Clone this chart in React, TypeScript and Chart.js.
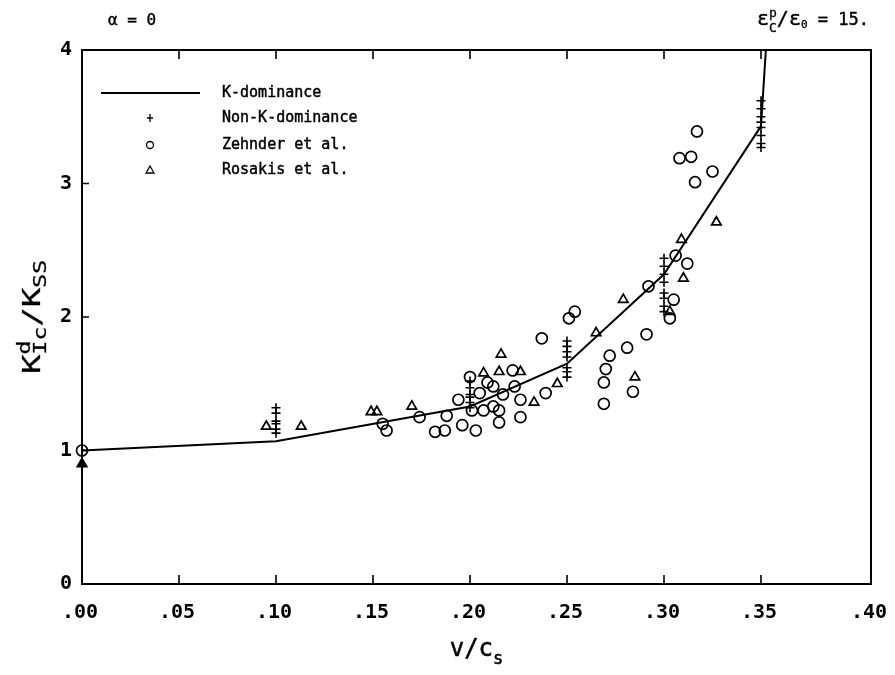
import React, { useEffect, useRef } from 'react';
import { Chart, registerables } from 'chart.js';

Chart.register(...registerables);

// ---------- data ----------
const xMin = 0;
const xMax = 0.4067;
const yMin = 0;
const yMax = 4;
const xTickValues = [0, 0.05, 0.1, 0.15, 0.2, 0.25, 0.3, 0.35, 0.4];
const xTickLabels = ['.00', '.05', '.10', '.15', '.20', '.25', '.30', '.35', '.40'];
const yTickValues = [0, 1, 2, 3, 4];
const yTickLabels = ['0', '1', '2', '3', '4'];

// K-dominance curve
const kDomV = [0, 0.1, 0.2, 0.25, 0.3, 0.35, 0.3525];
const kDomK = [1.0, 1.07, 1.33, 1.65, 2.32, 3.43, 4.0];

// Non-K-dominance (crosses)
const nonKV = [
  0.1, 0.1, 0.1, 0.1, 0.1, 0.1,
  0.2, 0.2, 0.2, 0.2, 0.2, 0.2,
  0.25, 0.25, 0.25, 0.25, 0.25, 0.25, 0.25,
  0.3, 0.3, 0.3, 0.3, 0.3, 0.3, 0.3, 0.3,
  0.35, 0.35, 0.35, 0.35, 0.35, 0.35, 0.35, 0.35,
];
const nonKK = [
  1.32, 1.28, 1.22, 1.2, 1.16, 1.13,
  1.52, 1.47, 1.42, 1.4, 1.36, 1.32,
  1.82, 1.78, 1.74, 1.7, 1.62, 1.59, 1.55,
  2.44, 2.38, 2.32, 2.26, 2.18, 2.14, 2.08, 2.04,
  3.62, 3.56, 3.5, 3.46, 3.42, 3.36, 3.3, 3.27,
];

// Zehnder et al. (circles)
const zehnderV = [
  0, 0.155, 0.157, 0.174, 0.182, 0.187, 0.188, 0.194, 0.196, 0.2,
  0.201, 0.203, 0.205, 0.207, 0.209, 0.212, 0.212, 0.215, 0.215, 0.217,
  0.222, 0.223, 0.226, 0.226, 0.237, 0.239, 0.251, 0.254, 0.269, 0.269,
  0.27, 0.272, 0.281, 0.284, 0.291, 0.292, 0.303, 0.305, 0.306, 0.312,
  0.316, 0.308, 0.314, 0.317, 0.325,
];
const zehnderK = [
  1.0, 1.2, 1.15, 1.25, 1.14, 1.15, 1.26, 1.38, 1.19, 1.55,
  1.3, 1.15, 1.43, 1.3, 1.51, 1.48, 1.33, 1.3, 1.21, 1.42,
  1.6, 1.48, 1.38, 1.25, 1.84, 1.43, 1.99, 2.04, 1.51, 1.35,
  1.61, 1.71, 1.77, 1.44, 1.87, 2.23, 1.99, 2.13, 2.46, 2.4,
  3.01, 3.19, 3.2, 3.39, 3.09,
];

// Rosakis et al. (triangles)
const rosakisV = [
  0, 0.095, 0.113, 0.149, 0.152, 0.17, 0.207, 0.215, 0.216, 0.226,
  0.233, 0.245, 0.265, 0.279, 0.285, 0.303, 0.31, 0.309, 0.327,
];
const rosakisK = [
  0.9, 1.18, 1.18, 1.29, 1.29, 1.33, 1.58, 1.59, 1.72, 1.59,
  1.36, 1.5, 1.88, 2.13, 1.55, 2.04, 2.29, 2.58, 2.71,
];

const legendLabels = ['K-dominance', 'Non-K-dominance', 'Zehnder et al.', 'Rosakis et al.'];

const MONO = '"DejaVu Sans Mono", monospace';

function pts(xs: number[], ys: number[]) {
  return xs.map((x, i) => ({ x, y: ys[i] }));
}

function heavyText(ctx: CanvasRenderingContext2D, t: string, x: number, y: number, w = 0.5) {
  ctx.fillText(t, x, y);
  if (w > 0) {
    ctx.lineWidth = w;
    ctx.strokeText(t, x, y);
  }
}

const framePlugin = {
  id: 'framePlugin',
  afterDraw(chart: any) {
    const ctx = chart.ctx as CanvasRenderingContext2D;
    const xs = chart.scales.x;
    const ys = chart.scales.y;
    const a = chart.chartArea;
    ctx.save();
    ctx.strokeStyle = '#000';
    ctx.fillStyle = '#000';
    ctx.lineWidth = 2;
    ctx.strokeRect(a.left, a.top, a.right - a.left, a.bottom - a.top);

    const lastIdx = xTickValues.length - 1;
    const xPix = (i: number) => (i === lastIdx ? a.right : xs.getPixelForValue(xTickValues[i]));

    // ticks
    ctx.lineWidth = 1.6;
    ctx.beginPath();
    xTickValues.forEach((_, i) => {
      const px = xPix(i);
      if (px <= a.left + 1 || px >= a.right - 1) return;
      ctx.moveTo(px, a.bottom);
      ctx.lineTo(px, a.bottom - 9);
      ctx.moveTo(px, a.top);
      ctx.lineTo(px, a.top + 9);
    });
    yTickValues.forEach((v) => {
      const py = ys.getPixelForValue(v);
      if (py <= a.top + 1 || py >= a.bottom - 1) return;
      ctx.moveTo(a.left, py);
      ctx.lineTo(a.left + 7, py);
    });
    ctx.stroke();

    // tick labels
    ctx.font = `bold 20px ${MONO}`;
    ctx.textAlign = 'center';
    ctx.textBaseline = 'middle';
    xTickValues.forEach((_, i) => {
      ctx.fillText(xTickLabels[i], xPix(i) - 2, a.bottom + 29);
    });
    ctx.textAlign = 'right';
    yTickValues.forEach((v, i) => {
      const py = ys.getPixelForValue(v);
      ctx.fillText(yTickLabels[i], a.left - 10, py);
    });

    // x title: v/c_s
    ctx.textAlign = 'left';
    ctx.textBaseline = 'alphabetic';
    const xc = (a.left + a.right) / 2;
    ctx.font = `24px ${MONO}`;
    const w1 = ctx.measureText('v/c').width;
    ctx.font = `17px ${MONO}`;
    const w2 = ctx.measureText('s').width;
    const sx = xc - (w1 + w2) / 2;
    ctx.font = `24px ${MONO}`;
    heavyText(ctx, 'v/c', sx, 656);
    ctx.font = `17px ${MONO}`;
    heavyText(ctx, 's', sx + w1, 664);

    // y title: K^d_Ic / K_SS (rotated)
    ctx.save();
    ctx.translate(40, 317);
    ctx.rotate(-Math.PI / 2);
    const big = `24px ${MONO}`;
    const small = `17px ${MONO}`;
    ctx.font = big;
    const wK = ctx.measureText('K').width;
    const wSl = ctx.measureText('/K').width;
    ctx.font = small;
    const wd = ctx.measureText('d').width;
    const wIc = ctx.measureText('Ic').width;
    const wSS = ctx.measureText('SS').width;
    const total = wK + Math.max(wd, wIc) + wSl + wSS;
    const target = 114;
    ctx.scale(target / total, 1);
    let x0 = -total / 2;
    ctx.font = big;
    heavyText(ctx, 'K', x0, 0, 0.3);
    x0 += wK;
    ctx.font = small;
    heavyText(ctx, 'd', x0, -10, 0.3);
    heavyText(ctx, 'Ic', x0, 6, 0.3);
    x0 += Math.max(wd, wIc);
    ctx.font = big;
    heavyText(ctx, '/K', x0, 0, 0.3);
    x0 += wSl;
    ctx.font = small;
    heavyText(ctx, 'SS', x0, 6, 0.3);
    ctx.restore();

    // top-left annotation
    ctx.font = `16px ${MONO}`;
    heavyText(ctx, '\u03b1 = 0', 108, 25, 0.4);

    // top-right annotation: eps_C^p / eps_0 = 15.
    let tx = 757;
    ctx.font = `20px ${MONO}`;
    heavyText(ctx, '\u03b5', tx, 25, 0.4);
    tx += ctx.measureText('\u03b5').width;
    ctx.font = `13px ${MONO}`;
    heavyText(ctx, 'p', tx, 17, 0.3);
    heavyText(ctx, 'C', tx, 32, 0.3);
    tx += ctx.measureText('C').width;
    ctx.font = `20px ${MONO}`;
    heavyText(ctx, '/\u03b5', tx, 25, 0.4);
    tx += ctx.measureText('/\u03b5').width;
    ctx.font = `11px ${MONO}`;
    heavyText(ctx, '0', tx, 28, 0.3);
    tx += ctx.measureText('0').width;
    ctx.font = `17px ${MONO}`;
    heavyText(ctx, ' = 15.', tx, 25, 0.4);

    // legend
    const rows = [93, 118, 145, 170];
    const mx = 150;
    ctx.lineWidth = 1.8;
    ctx.beginPath();
    ctx.moveTo(101, rows[0]);
    ctx.lineTo(200, rows[0]);
    ctx.stroke();
    ctx.lineWidth = 1.3;
    ctx.beginPath();
    ctx.moveTo(mx - 3, rows[1]);
    ctx.lineTo(mx + 3, rows[1]);
    ctx.moveTo(mx, rows[1] - 4);
    ctx.lineTo(mx, rows[1] + 4);
    ctx.stroke();
    ctx.beginPath();
    ctx.arc(mx, rows[2], 3.5, 0, Math.PI * 2);
    ctx.stroke();
    ctx.beginPath();
    ctx.moveTo(mx, rows[3] - 4);
    ctx.lineTo(mx + 4, rows[3] + 3);
    ctx.lineTo(mx - 4, rows[3] + 3);
    ctx.closePath();
    ctx.stroke();
    ctx.font = `15px ${MONO}`;
    ctx.textBaseline = 'middle';
    legendLabels.forEach((t, i) => heavyText(ctx, t, 222, rows[i], 0.45));
    ctx.restore();
  },
};

export default function App() {
  const ref = useRef<HTMLCanvasElement | null>(null);
  useEffect(() => {
    document.body.style.margin = '0';
    const canvas = ref.current;
    if (!canvas) return;
    const chart = new Chart(canvas, {
      type: 'scatter',
      data: {
        datasets: [
          {
            label: legendLabels[0],
            type: 'line',
            data: pts(kDomV, kDomK),
            borderColor: '#000',
            borderWidth: 2,
            pointRadius: 0,
            fill: false,
            tension: 0,
          } as any,
          {
            label: legendLabels[1],
            data: pts(nonKV, nonKK),
            pointStyle: 'cross',
            pointRadius: 4.5,
            borderColor: '#000',
            borderWidth: 1.6,
            clip: false,
          },
          {
            label: legendLabels[2],
            data: pts(zehnderV, zehnderK),
            pointStyle: 'circle',
            pointRadius: 5.5,
            borderColor: '#000',
            backgroundColor: 'rgba(0,0,0,0)',
            borderWidth: 1.7,
            clip: false,
          },
          {
            label: legendLabels[3],
            data: pts(rosakisV, rosakisK),
            pointStyle: 'triangle',
            pointRadius: 5.5,
            borderColor: '#000',
            backgroundColor: rosakisV.map((_, i) => (i === 0 ? '#000' : 'rgba(0,0,0,0)')),
            borderWidth: 1.7,
            clip: false,
          },
        ],
      },
      options: {
        animation: false,
        responsive: false,
        layout: { padding: { left: 82, right: 24, top: 50, bottom: 91 } },
        plugins: { legend: { display: false }, tooltip: { enabled: false } },
        scales: {
          x: { type: 'linear', min: xMin, max: xMax, display: false },
          y: { type: 'linear', min: yMin, max: yMax, display: false },
        },
      },
      plugins: [framePlugin],
    });
    return () => chart.destroy();
  }, []);
  return (
    <div style={{ width: 895, height: 675, background: '#fff' }}>
      <canvas ref={ref} width={895} height={675} style={{ display: 'block' }} />
    </div>
  );
}
